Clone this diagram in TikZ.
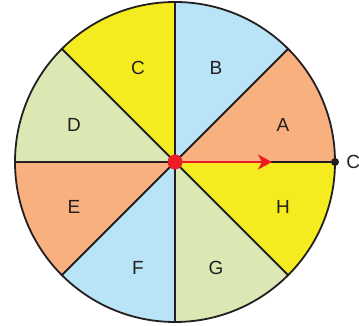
\documentclass[tikz,border=0pt]{standalone}
\usepackage{fontspec}
\setmainfont{Liberation Sans}
\usetikzlibrary{arrows.meta}
\definecolor{sectorsalmon}{HTML}{F9B07F}
\definecolor{sectorblue}{HTML}{B9E4F7}
\definecolor{sectoryellow}{HTML}{F5EC1F}
\definecolor{sectorgreen}{HTML}{DCE8B4}
\definecolor{pointred}{HTML}{EC1C24}
\definecolor{rimblack}{HTML}{231F20}

\begin{document}
\begin{tikzpicture}[x=1pt, y=1pt,
    rim/.style={draw=rimblack, line width=1.8pt},
    sectorlabel/.style={font=\fontsize{19}{22}\selectfont, text=rimblack, inner sep=0pt},
    centredot/.style={circle, fill=pointred, minimum size=15pt, inner sep=0pt},
    rimdot/.style={circle, fill=rimblack, minimum size=8pt, inner sep=0pt},
    redarrow/.style={-{Stealth[length=14pt, width=15pt, inset=4pt]},
      line width=2.4pt, color=pointred},
]
\useasboundingbox (0,0) rectangle (359,326);
\coordinate (O) at (175,164);
% Sectors
\foreach \col [count=\i from 0] in {sectorsalmon, sectorblue, sectoryellow, sectorgreen,
                                    sectorsalmon, sectorblue, sectorgreen, sectoryellow}
  \fill[\col] (O) -- ++(\i*45:160pt)
    arc[start angle=\i*45, end angle=\i*45+45, radius=160pt] -- cycle;
\foreach \a in {0,45,...,315}
  \draw[rim] (O) -- ++(\a:160pt);
\draw[rim] (O) circle[radius=160pt];
% Labels
\foreach \name/\x/\y in {A/283/201, B/216/258, C/138/258, D/74/201,
                         E/74/119, F/138/58, G/216/58, H/283/119}
  \node[sectorlabel] (lbl\name) at (\x,\y) {\name};
% Radius with arrow
\node[rimdot] (P) at (335,164) {};
\node[sectorlabel, anchor=west] (lblP) at ([xshift=7pt]P.east) {C};
\coordinate (tip) at (272,164);
\draw[redarrow] (O) -- (tip);
\node[centredot] (Odot) at (O) {};
\end{tikzpicture}
\end{document}
